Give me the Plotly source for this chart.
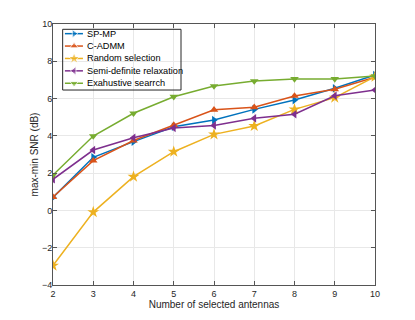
import plotly.graph_objects as go

antennas = [2, 3, 4, 5, 6, 7, 8, 9, 10]

sp_mp = [0.70, 2.85, 3.69, 4.49, 4.85, 5.42, 5.92, 6.55, 7.26]
c_admm = [0.72, 2.67, 3.75, 4.58, 5.40, 5.53, 6.14, 6.50, 7.14]
random_sel = [-2.96, -0.09, 1.81, 3.15, 4.08, 4.53, 5.42, 6.05, 7.17]
sdr = [1.67, 3.24, 3.90, 4.42, 4.56, 4.94, 5.16, 6.15, 6.46]
exhaustive = [1.90, 3.99, 5.21, 6.10, 6.67, 6.94, 7.05, 7.05, 7.21]

names = ["SP-MP", "C-ADMM", "Random selection", "Semi-definite relaxation", "Exahustive searrch"]
colors = ["#0072BD", "#D95319", "#EDB120", "#7E2F8E", "#77AC30"]
symbols = ["triangle-right", "triangle-up", "star", "triangle-left", "triangle-down"]
values = [sp_mp, c_admm, random_sel, sdr, exhaustive]

fig = go.Figure()
for name, vals, color, sym in zip(names, values, colors, symbols):
    fig.add_trace(go.Scatter(
        x=antennas, y=vals, name=name, mode="lines+markers",
        line=dict(color=color, width=1.5),
        marker=dict(symbol=sym, size=9 if sym == "star" else 7.5, color=color),
        showlegend=False,
    ))

# compact MATLAB-like legend, drawn on an overlay axis spanning the plot area (0..1)
box = dict(x0=0.030, x1=0.3975, y0=0.747, y1=0.9797)
row_top, row_step = 0.963, 0.0475
for i, (name, color, sym) in enumerate(zip(names, colors, symbols)):
    yy = row_top - i * row_step
    fig.add_trace(go.Scatter(
        x=[0.037, 0.0655, 0.093], y=[yy, yy, yy], xaxis="x2", yaxis="y2",
        mode="lines+markers", line=dict(color=color, width=1.5),
        marker=dict(symbol=sym, size=[0, 9 if sym == "star" else 7.5, 0], color=color),
        showlegend=False, hoverinfo="skip",
    ))
    fig.add_annotation(x=0.100, y=yy, xref="x2", yref="y2", text=name, showarrow=False,
                       xanchor="left", yanchor="middle", font=dict(size=9.2, color="#000000"))
fig.add_shape(type="rect", xref="x2", yref="y2", line=dict(color="#262626", width=1),
              fillcolor="rgba(0,0,0,0)", layer="above", **box)

axis_common = dict(
    showline=True, linecolor="#555555", linewidth=1, mirror="ticks",
    ticks="inside", ticklen=4, tickcolor="#555555",
    showgrid=True, gridcolor="#e8e8e8", gridwidth=1,
    zeroline=False, automargin=False, tickfont=dict(size=9, color="#262626"),
)

# page body has an 8px default margin, so margins are shifted to compensate
fig.update_layout(
    width=415, height=320,
    margin=dict(l=45, r=48, t=16, b=43),
    paper_bgcolor="white", plot_bgcolor="white",
    font=dict(family="Liberation Sans, Arial, sans-serif", color="#262626"),
    xaxis=dict(range=[2, 10], dtick=1, title=dict(text="Number of selected antennas",
               font=dict(size=10), standoff=2), **axis_common),
    yaxis=dict(range=[-4, 10], dtick=2, ticklabelstandoff=-2,
               title=dict(text="max-min SNR (dB)", font=dict(size=10), standoff=1),
               **axis_common),
    xaxis2=dict(overlaying="x", range=[0, 1], visible=False, fixedrange=True),
    yaxis2=dict(overlaying="y", range=[0, 1], visible=False, fixedrange=True),
)

fig.write_html("out.html")
